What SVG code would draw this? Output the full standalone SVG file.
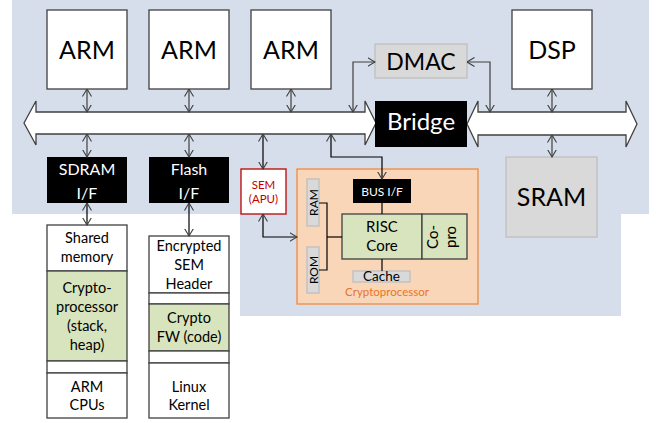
<svg xmlns="http://www.w3.org/2000/svg" width="657" height="423" viewBox="0 0 657 423">
<defs>
<style>
.t{font-family:Lato,"Liberation Sans",sans-serif;text-anchor:middle}
.m{font-size:14.5px}
.wb{fill:#fff;stroke:#404040;stroke-width:1.3}
.bk{fill:#000}
.gy{fill:#D9D9D9;stroke:#BFBFBF;stroke-width:1.3}
.gn{fill:#D7E4BD;stroke:#404040;stroke-width:1.3}
.c{fill:none;stroke:#404040;stroke-width:1.2}
.k{fill:none;stroke:#000;stroke-width:1.2}
.bus{fill:#fff;stroke:#404040;stroke-width:1.3}
</style>
<marker id="a" viewBox="0 0 8 10" refX="7.5" refY="5" markerWidth="8" markerHeight="10" markerUnits="userSpaceOnUse" orient="auto-start-reverse">
<path d="M0,0.5 L7.5,5 L0,9.5" fill="none" stroke="#404040" stroke-width="1.1"/>
</marker>
</defs>
<rect width="657" height="423" fill="#fff"/>
<path d="M12,0 H649 V214 H621 V316 H240 V214 H12 Z" fill="#D5DEEA"/>

<g id="bus-left"><path class="bus" d="M24,123 L36,101 V112 H365 V101 L376,123 L365,145 V134 H36 V145 Z"/></g>
<g id="bus-right"><path class="bus" d="M467,124 L478,101 V112 H626 V101 L637,124 L626,147 V135 H478 V147 Z"/></g>

<g id="arm1"><rect class="wb" x="47" y="10" width="80" height="79"/><text class="t" x="87" y="59" font-size="25">ARM</text></g>
<g id="arm2"><rect class="wb" x="149" y="10" width="80" height="79"/><text class="t" x="189" y="59" font-size="25">ARM</text></g>
<g id="arm3"><rect class="wb" x="251" y="10" width="80" height="79"/><text class="t" x="291" y="59" font-size="25">ARM</text></g>
<g id="dsp"><rect class="wb" x="512" y="10" width="80" height="79"/><text class="t" x="552" y="59" font-size="25">DSP</text></g>
<g id="dmac"><rect class="gy" x="375" y="44" width="92" height="34"/><text class="t" x="421" y="70" font-size="23">DMAC</text></g>
<g id="bridge"><rect class="bk" x="375" y="101" width="92" height="46"/><text class="t" x="421" y="130" font-size="24" fill="#fff">Bridge</text></g>
<g id="sram"><rect class="gy" x="506" y="157" width="91" height="80"/><text class="t" x="551.5" y="206" font-size="25">SRAM</text></g>

<g id="sdram-if"><rect class="bk" x="47" y="157" width="80" height="46"/><text class="t" x="87" y="175" font-size="16" fill="#fff">SDRAM</text><text class="t" x="87" y="199" font-size="16" fill="#fff">I/F</text></g>
<g id="flash-if"><rect class="bk" x="149" y="157" width="80" height="46"/><text class="t" x="189" y="175" font-size="16" fill="#fff">Flash</text><text class="t" x="189" y="199" font-size="16" fill="#fff">I/F</text></g>
<g id="sem"><rect x="241" y="169" width="45" height="45" fill="#fff" stroke="#C00000" stroke-width="1.3"/><text class="t" x="263.5" y="188.5" font-size="11.5" fill="#C00000">SEM</text><text class="t" x="263.5" y="202.5" font-size="11.5" fill="#C00000">(APU)</text></g>

<g id="cryptoprocessor">
<rect x="297" y="169" width="181" height="135" fill="#FAD6B9" stroke="#F08A3C" stroke-width="1.3"/>
<text class="t" x="387" y="296" font-size="11.5" fill="#E8741F">Cryptoprocessor</text>
</g>
<g id="bus-if"><rect class="bk" x="353" y="179" width="58" height="24"/><text class="t" x="382" y="196" font-size="12" fill="#fff">BUS I/F</text></g>
<g id="risc"><rect class="gn" x="342" y="214" width="80" height="45" stroke="#000"/><text class="t" x="382" y="232" font-size="15">RISC</text><text class="t" x="382" y="251" font-size="15">Core</text></g>
<g id="copro"><rect class="gn" x="422" y="214" width="45" height="45" stroke="#000"/><text class="t" font-size="15" transform="translate(437.5,237) rotate(-90)">Co-</text><text class="t" font-size="15" transform="translate(456,237) rotate(-90)">pro</text></g>
<g id="ram"><rect class="gy" x="307" y="179" width="12" height="47"/><text class="t" font-size="12" transform="translate(317.5,202.5) rotate(-90)">RAM</text></g>
<g id="rom"><rect class="gy" x="307" y="247" width="12" height="46"/><text class="t" font-size="12" transform="translate(317.5,270) rotate(-90)">ROM</text></g>
<g id="cache"><rect class="gy" x="353" y="271" width="57" height="11"/><text class="t" x="381.5" y="281" font-size="13.5">Cache</text></g>

<g id="mem1">
<rect class="wb" x="47" y="225" width="80" height="46"/>
<rect class="gn" x="47" y="271" width="80" height="90"/>
<rect class="wb" x="47" y="361" width="80" height="12"/>
<rect class="wb" x="47" y="373" width="80" height="45"/>
<text class="t m" x="87" y="243">Shared</text>
<text class="t m" x="87" y="262">memory</text>
<text class="t m" x="87" y="293">Crypto-</text>
<text class="t m" x="87" y="312">processor</text>
<text class="t m" x="87" y="331">(stack,</text>
<text class="t m" x="87" y="350">heap)</text>
<text class="t m" x="87" y="392">ARM</text>
<text class="t m" x="87" y="410">CPUs</text>
</g>
<g id="mem2">
<rect class="wb" x="149" y="236" width="80" height="57"/>
<rect class="wb" x="149" y="293" width="80" height="11"/>
<rect class="gn" x="149" y="304" width="80" height="47"/>
<rect class="wb" x="149" y="351" width="80" height="12"/>
<rect class="wb" x="149" y="363" width="80" height="55"/>
<text class="t m" x="189" y="251">Encrypted</text>
<text class="t m" x="189" y="270">SEM</text>
<text class="t m" x="189" y="289">Header</text>
<text class="t m" x="189" y="323">Crypto</text>
<text class="t m" x="189" y="342">FW (code)</text>
<text class="t m" x="189" y="392">Linux</text>
<text class="t m" x="189" y="410">Kernel</text>
</g>

<g id="connectors">
<path class="c" d="M87,89 V112" marker-start="url(#a)" marker-end="url(#a)"/>
<path class="c" d="M189,89 V112" marker-start="url(#a)" marker-end="url(#a)"/>
<path class="c" d="M291,89 V112" marker-start="url(#a)" marker-end="url(#a)"/>
<path class="c" d="M552,89 V112" marker-start="url(#a)" marker-end="url(#a)"/>
<path class="c" d="M87,134 V157" marker-start="url(#a)" marker-end="url(#a)"/>
<path class="c" d="M189,134 V157" marker-start="url(#a)" marker-end="url(#a)"/>
<path class="c" d="M552,135 V157" marker-start="url(#a)" marker-end="url(#a)"/>
<path class="k" d="M263,134 V169" marker-start="url(#a)" marker-end="url(#a)"/>
<path class="k" d="M87,203 V225" marker-start="url(#a)" marker-end="url(#a)"/>
<path class="k" d="M189,203 V236" marker-start="url(#a)" marker-end="url(#a)"/>
<path class="c" d="M353,112 V62 H375" marker-start="url(#a)" marker-end="url(#a)"/>
<path class="c" d="M467,62 H490 V112" marker-start="url(#a)" marker-end="url(#a)"/>
<path class="k" d="M331,134 V157 H382 V179" marker-start="url(#a)" marker-end="url(#a)"/>
<path class="k" d="M263,214 V237 H297" marker-start="url(#a)" marker-end="url(#a)"/>
<path class="k" d="M382,203 V214"/>
<path class="k" d="M382,259 V271"/>
<path class="k" d="M319,203 H327 V270 H319"/>
<path class="k" d="M327,237 H342"/>
</g>
</svg>
